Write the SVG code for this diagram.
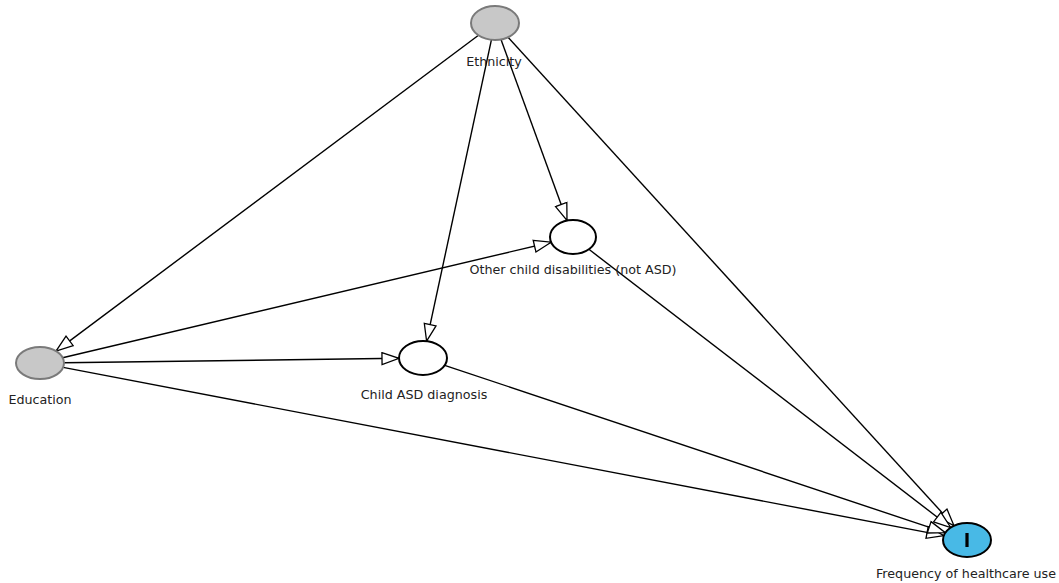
<svg xmlns="http://www.w3.org/2000/svg" width="1059" height="583" viewBox="0 0 1059 583">
  <style>
    .edge { stroke: #000; stroke-width: 1.4; fill: none; marker-end: url(#open-arrow); }
    .adjusted { fill: #c8c8c8; stroke: #7a7a7a; stroke-width: 2; }
    .latent { fill: #fff; stroke: #000; stroke-width: 2; }
    .outcome { fill: #48b9e6; stroke: #000; stroke-width: 2; }
    .label { font-family: "DejaVu Sans", Verdana, sans-serif; font-size: 12.7px; fill: #222; text-anchor: middle; }
  </style>
  <defs>
    <!-- hollow triangular arrowhead, tip on the node outline -->
    <marker id="open-arrow" markerUnits="userSpaceOnUse" markerWidth="20" markerHeight="16" viewBox="-1 -1 20 16" refX="17" refY="6" orient="auto">
      <path d="M0,0 L17,6 L0,12 Z" fill="#fff" stroke="#000" stroke-width="1.3" stroke-linejoin="miter"/>
    </marker>
  </defs>
  <rect width="1059" height="583" fill="#fff"/>

  <!-- connectors -->
  <g id="edges">
    <line class="edge" x1="478.5" y1="35.3" x2="56.0" y2="351.1"/>
    <line class="edge" x1="491.4" y1="39.8" x2="426.6" y2="341.2"/>
    <line class="edge" x1="501.0" y1="39.5" x2="567.0" y2="220.5"/>
    <line class="edge" x1="508.0" y1="37.3" x2="954.0" y2="525.7"/>
    <line class="edge" x1="62.6" y1="357.7" x2="551.1" y2="242.2"/>
    <line class="edge" x1="64.0" y1="362.7" x2="399.0" y2="358.3"/>
    <line class="edge" x1="63.1" y1="367.4" x2="943.8" y2="535.6"/>
    <line class="edge" x1="444.7" y1="365.3" x2="945.3" y2="532.7"/>
    <line class="edge" x1="588.9" y1="249.3" x2="950.7" y2="527.5"/>
  </g>

  <!-- nodes -->
  <g id="node-ethnicity">
    <ellipse class="adjusted" cx="495" cy="23" rx="24" ry="17"/>
    <text class="label" x="494" y="66">Ethnicity</text>
  </g>
  <g id="node-education">
    <ellipse class="adjusted" cx="40" cy="363" rx="24" ry="16"/>
    <text class="label" x="40" y="404">Education</text>
  </g>
  <g id="node-asd">
    <ellipse class="latent" cx="423" cy="358" rx="24" ry="17"/>
    <text class="label" x="424" y="399">Child ASD diagnosis</text>
  </g>
  <g id="node-other">
    <ellipse class="latent" cx="573" cy="237" rx="23" ry="17"/>
    <text class="label" x="573" y="274">Other child disabilities (not ASD)</text>
  </g>
  <g id="node-frequency">
    <ellipse class="outcome" cx="967" cy="540" rx="24" ry="17"/>
    <rect x="965.4" y="533" width="3.2" height="14" fill="#000"/>
    <text class="label" x="966" y="578">Frequency of healthcare use</text>
  </g>
</svg>
